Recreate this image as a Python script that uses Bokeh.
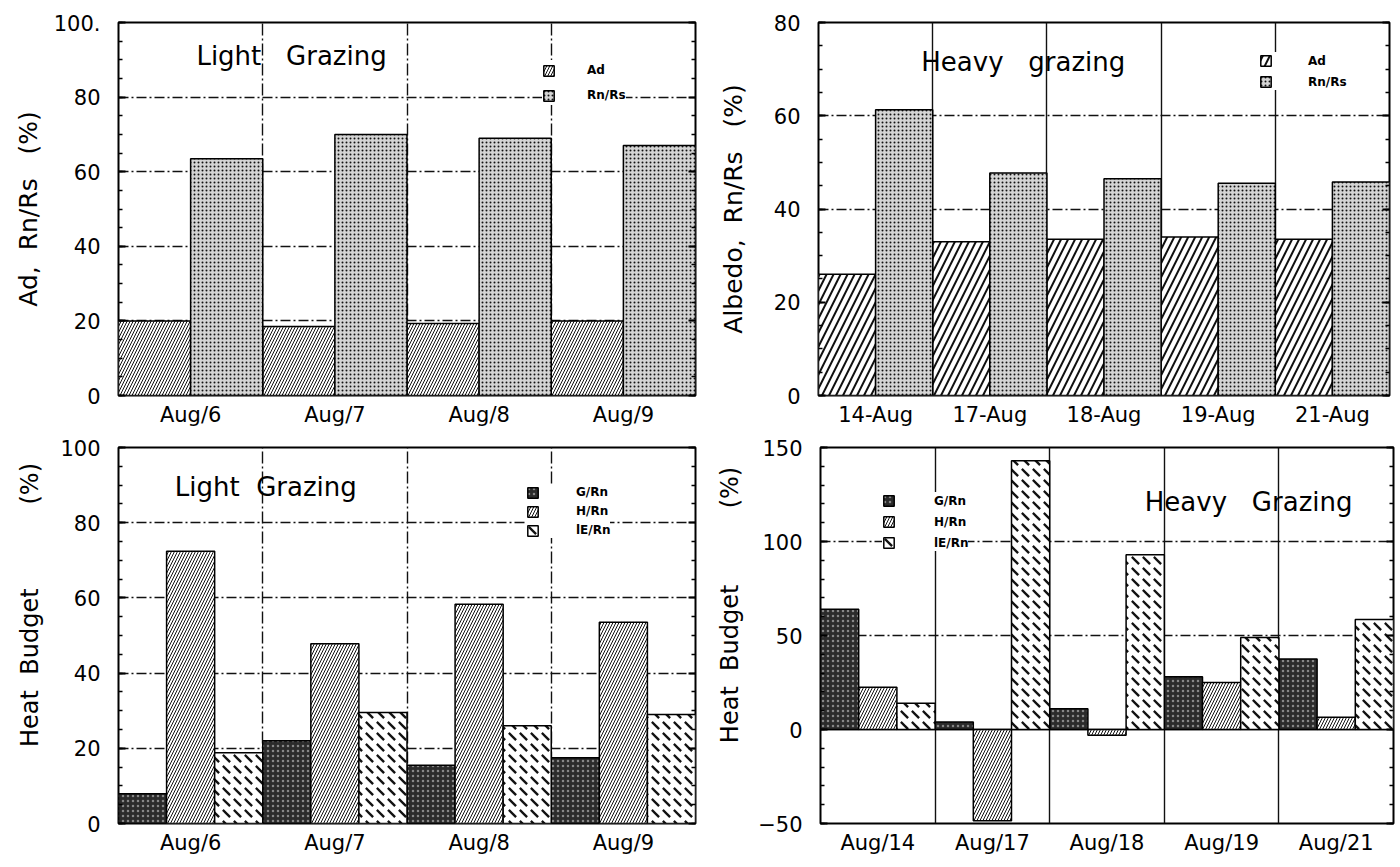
from bokeh.plotting import figure
from bokeh.models import (Range1d, FixedTicker, LinearAxis, Legend, LegendItem,
                          Label, Span)
from bokeh.layouts import column, row
from bokeh.embed import file_html
from bokeh.resources import INLINE

NB = "\u00a0"
FONT = "DejaVu Sans"

# ---------------- data ----------------
tl_dates = ["Aug/6", "Aug/7", "Aug/8", "Aug/9"]
tl_ad = [20, 18.5, 19.3, 20]
tl_rnrs = [63.5, 70, 69, 67]

tr_dates = ["14-Aug", "17-Aug", "18-Aug", "19-Aug", "21-Aug"]
tr_ad = [26, 33, 33.5, 34, 33.5]
tr_rnrs = [61.3, 47.7, 46.5, 45.5, 45.8]

bl_dates = ["Aug/6", "Aug/7", "Aug/8", "Aug/9"]
bl_g = [7.9, 22, 15.5, 17.5]
bl_h = [72.4, 47.8, 58.3, 53.5]
bl_le = [18.8, 29.5, 26, 29]

br_dates = ["Aug/14", "Aug/17", "Aug/18", "Aug/19", "Aug/21"]
br_g = [64, 4, 11, 28, 37.5]
br_h = [22.5, -48.5, -3, 25, 6.5]
br_le = [14, 143, 93, 49, 58.5]

# ---------------- styles ----------------
FINE = dict(fill_color="white", hatch_pattern="/", hatch_scale=6, hatch_weight=1, hatch_color="#111")
COARSE = dict(fill_color="white", hatch_pattern="/", hatch_scale=14, hatch_weight=2, hatch_color="#111")
STIPPLE = dict(fill_color="#d4d4d4", hatch_pattern=".", hatch_scale=4, hatch_weight=1.6, hatch_color="#111")
DARK = dict(fill_color="#2b2b2b", hatch_pattern=".", hatch_scale=5, hatch_weight=1, hatch_color="#888")
DASHES = dict(fill_color="white", hatch_pattern="`", hatch_scale=11, hatch_weight=2.4, hatch_color="#111")


def panel(cats, series, names, styles, size, yr, majors, minors, grid_y, overrides,
          borders, leg, title, title_xy, ylabel, ylab_size, ylab_standoff, vdash,
          zero_line=False):
    n = len(cats)
    k = len(series)
    w = 1.0 / k
    left, right, top, bottom = borders
    p = figure(width=size[0], height=size[1], x_range=Range1d(0, n), y_range=Range1d(*yr),
               output_backend="svg", toolbar_location=None,
               min_border_left=left, min_border_right=right,
               min_border_top=top, min_border_bottom=bottom)
    p.outline_line_color = "black"
    p.outline_line_width = 2
    p.background_fill_color = "white"
    p.border_fill_color = "white"

    # grid
    p.ygrid.ticker = FixedTicker(ticks=grid_y)
    p.ygrid.grid_line_color = "#111"
    p.ygrid.grid_line_width = 1.5
    p.ygrid.grid_line_dash = "10 3 2 3"
    p.xgrid.ticker = FixedTicker(ticks=list(range(1, n)))
    p.xgrid.grid_line_color = "#111"
    p.xgrid.grid_line_width = 1.4
    p.xgrid.grid_line_dash = vdash

    if zero_line:
        p.add_layout(Span(location=0, dimension="width", line_color="black",
                          line_width=1.5, level="underlay"))

    renderers = []
    for j, (vals, st) in enumerate(zip(series, styles)):
        xs = [i + w * (j + 0.5) for i in range(n)]
        r = p.vbar(x=xs, top=vals, bottom=0, width=w, line_color="black",
                   line_width=1.5, **st)
        renderers.append(r)

    # x axis
    xa = p.xaxis[0]
    xa.ticker = FixedTicker(ticks=[i + 0.5 for i in range(n)])
    xa.major_label_overrides = {i + 0.5: c for i, c in enumerate(cats)}
    xa.major_tick_line_color = None
    xa.minor_tick_line_color = None
    xa.axis_line_color = None
    xa.major_label_text_font = FONT
    xa.major_label_text_font_size = "21px"
    xa.major_label_text_color = "black"
    xa.major_label_standoff = 1

    # y axis left
    ya = p.yaxis[0]
    ya.ticker = FixedTicker(ticks=majors, minor_ticks=minors)
    ya.major_label_overrides = overrides
    ya.axis_line_color = None
    ya.major_tick_in = 7
    ya.major_tick_out = 0
    ya.minor_tick_in = 4
    ya.minor_tick_out = 0
    ya.major_tick_line_width = 2
    ya.minor_tick_line_width = 1.5
    ya.major_tick_line_color = "black"
    ya.minor_tick_line_color = "black"
    ya.major_label_text_font = FONT
    ya.major_label_text_font_size = "21px"
    ya.major_label_text_color = "black"
    ya.major_label_standoff = 18
    ya.axis_label = ylabel
    ya.axis_label_text_font = FONT
    ya.axis_label_text_font_size = ylab_size
    ya.axis_label_text_font_style = "normal"
    ya.axis_label_text_color = "black"
    ya.axis_label_standoff = ylab_standoff

    # right axis (ticks only, labels not drawn)
    ra = LinearAxis(ticker=FixedTicker(ticks=majors, minor_ticks=minors),
                    axis_line_color=None, major_tick_in=7, major_tick_out=0,
                    minor_tick_in=4, minor_tick_out=0,
                    major_tick_line_width=2, minor_tick_line_width=1.5,
                    major_label_text_color=None, major_label_text_font_size="1px",
                    major_label_standoff=0)
    p.add_layout(ra, "right")

    # legend
    (lx, ly), lh, sp, ls = leg
    items = [LegendItem(label=nm, renderers=[r]) for nm, r in zip(names, renderers)]
    lg = Legend(items=items, location=(lx, ly), orientation="vertical",
                glyph_width=13, glyph_height=13, label_height=lh, spacing=sp,
                padding=4, margin=0, label_standoff=ls,
                label_text_font=FONT, label_text_font_size="12px",
                label_text_font_style="bold", label_text_color="black",
                border_line_color=None, background_fill_color="white",
                background_fill_alpha=1.0)
    p.add_layout(lg)

    # title inside plot
    p.add_layout(Label(x=title_xy[0], y=title_xy[1], text=title,
                       text_font=FONT, text_font_size="26px",
                       text_baseline="middle", text_color="black"))
    return p


p_tl = panel(tl_dates, [tl_ad, tl_rnrs], ["Ad", "Rn/Rs"], [FINE, STIPPLE], (700, 433),
             (0, 100), [0, 20, 40, 60, 80, 100], list(range(0, 101, 5)),
             [20, 40, 60, 80], {100: "100."},
             (118, 5, 22, 37), ((424, 290), 20, 5, 32),
             "Light" + NB * 3 + "Grazing", (0.54, 91),
             "Ad," + NB * 2 + "Rn/Rs" + NB * 3 + "(%)", "25px", 8, "12 3 2 3")

p_tr = panel(tr_dates, [tr_ad, tr_rnrs], ["Ad", "Rn/Rs"], [COARSE, STIPPLE], (698, 433),
             (0, 80), [0, 20, 40, 60, 80], list(range(0, 81, 5)),
             [20, 40, 60], {},
             (118, 9, 22, 38), ((441, 305), 17, 4, 36),
             "Heavy" + NB * 3 + "grazing", (0.90, 71.6),
             "Albedo," + NB * 2 + "Rn/Rs" + NB * 3 + "(%)", "25px", 23, "solid")

p_bl = panel(bl_dates, [bl_g, bl_h, bl_le], ["G/Rn", "H/Rn", "lE/Rn"], [DARK, FINE, DASHES], (700, 432),
             (0, 100), [0, 20, 40, 60, 80, 100], list(range(0, 101, 5)),
             [20, 40, 60, 80], {},
             (118, 5, 14, 40), ((408, 285), 16, 3, 37),
             "Light" + NB * 2 + "Grazing", (0.39, 89.4),
             NB * 8 + "Heat" + NB * 2 + "Budget" + NB * 11 + "(%)", "24px", 13, "12 3 2 3")

p_br = panel(br_dates, [br_g, br_h, br_le], ["G/Rn", "H/Rn", "lE/Rn"], [DARK, FINE, DASHES], (698, 432),
             (-50, 150), [-50, 0, 50, 100, 150], list(range(-50, 151, 10)),
             [50, 100], {},
             (120, 5, 12, 42), ((62, 272), 17, 4, 39),
             "Heavy" + NB * 3 + "Grazing", (2.83, 121),
             NB * 8 + "Heat" + NB * 2 + "Budget" + NB * 10 + "(%)", "24px", 11, "solid",
             zero_line=True)

layout = column(row(p_tl, p_tr), row(p_bl, p_br))
open("out.html", "w").write(file_html(layout, INLINE))
